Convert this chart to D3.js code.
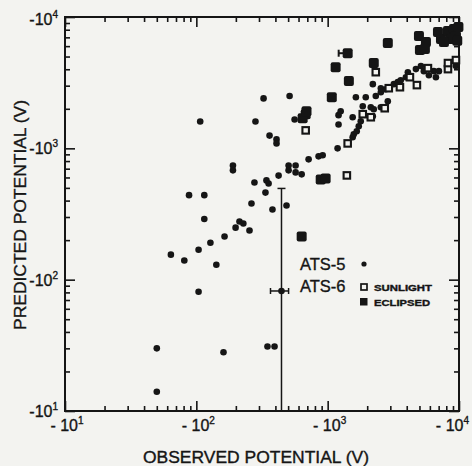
<!DOCTYPE html>
<html>
<head>
<meta charset="utf-8">
<script src="https://cdn.jsdelivr.net/npm/d3@7"></script>
<style>
  html, body { margin: 0; padding: 0; background: #f3f3f0; }
  svg { display: block; }
  text { font-family: "Liberation Sans", Arial, sans-serif; fill: #151515; stroke: #151515; stroke-width: 0.35; }
</style>
</head>
<body>
<svg id="chart" width="472" height="466"></svg>
<script>
// ---- Data (potentials in volts, negative) : [observed, predicted] ----
const ats5 = [
  [-107,-1600],[-190,-740],[-190,-680],[-88,-440],[-115,-440],[-115,-290],[-213,-277],
  [-199,-249],[-228,-268],[-254,-237],[-164,-213],[-128,-191],[-104,-169],[-64,-155],
  [-81,-140],[-142,-130],[-104,-81],[-50,-30],[-161,-28],[-50,-14],[-348,-31],[-394,-31],
  [-325,-2400],[-513,-2500],[-282,-1600],[-560,-1660],[-361,-1250],[-408,-1170],[-408,-1090],
  [-277,-550],[-342,-570],[-355,-540],[-336,-460],[-263,-380],[-380,-342],[-486,-367],
  [-423,-620],[-504,-740],[-570,-740],[-504,-680],[-570,-656],[-634,-634],[-716,-824],
  [-853,-869],[-916,-885],
  [-1190,-1000],[-1210,-1520],[-1210,-1790],[-1256,-1916],[-1550,-1725],[-1550,-1213],
  [-1580,-1280],[-1665,-1350],[-1725,-1470],[-1786,-1607],[-1640,-2450],[-1950,-2450],
  [-2325,-2500],[-2540,-2675],[-2870,-2285],[-1850,-2090],[-2130,-2055],[-2244,-1986],
  [-2207,-1755],[-2540,-2055],[-2207,-3080],[-2540,-2870],[-2773,-2820],[-3190,-3080],
  [-3420,-3190],[-3600,-3300],[-3940,-3480],[-4080,-3800],[-4700,-4010],[-5130,-4230],
  [-5400,-3870],[-5900,-3600],[-6440,-3870],[-6670,-3480],[-7030,-3870],[-9480,-4230]
];
const ats6Sunlight = [
  [-680,-1370],[-1400,-622],[-1420,-1090],[-1850,-1820],[-2130,-1725],[-2325,-3800],
  [-2720,-2020],[-2920,-2870],[-3550,-2920],[-4230,-3480],[-4780,-3030],[-5800,-4080],
  [-8240,-4010],[-8240,-4460],[-9480,-4700]
];
const ats6Eclipsed = [
  [-1420,-5300],[-1150,-4150],[-1450,-3250],[-1075,-2450],[-2870,-6340],[-2244,-4460],
  [-4955,-7160],[-5600,-6440],[-5040,-5600],[-5500,-5700],[-6915,-7680],[-7290,-6790],
  [-8240,-7820],[-9160,-8100],[-9480,-7160],[-8690,-6790],[-7680,-6440],[-9900,-8400],
  [-9700,-6600],[-680,-1820],[-645,-1695],[-690,-1916],[-885,-580],[-965,-590],[-634,-213]
];
// representative error bar point: [observed, predicted], with ranges
const errPoint = [-445, -82];
const errObsRange = [-367, -504];
const errPredRange = [-10, -495];
// small whisker on one eclipsed point
const eclWhisker = { obs: [-1213, -1420], pred: -5300 };

const majorTicks = [-10, -100, -1000, -10000];
const tickExponents = ["1", "2", "3", "4"];
const minorTicks = [1, 2, 3].flatMap(k => [2,3,4,5,6,7,8,9].map(m => -m * Math.pow(10, k)));

const legendSeries = ["ATS-5", "ATS-6"];
const legendSub = ["SUNLIGHT", "ECLIPSED"];
const xTitle = "OBSERVED POTENTIAL (V)";
const yTitle = "PREDICTED POTENTIAL (V)";

// ---- Layout ----
const svg = d3.select("#chart");
const ink = "#151515";
const L = 65, R = 459, T = 17, B = 411;

const x = d3.scaleLog().domain([-10, -10000]).range([L, R]);
const y = d3.scaleLog().domain([-10, -10000]).range([B, T]);

svg.append("rect").attr("width", 472).attr("height", 466).attr("fill", "#f3f3f0");

// axes ticks (inward)
function styleAxis(g) {
  g.select(".domain").remove();
  g.selectAll("line").attr("stroke", ink).attr("stroke-width", 1.6);
  g.selectAll("text").remove();
}
const axes = [
  [d3.axisBottom(x), `translate(0,${B})`],
  [d3.axisTop(x), `translate(0,${T})`],
  [d3.axisLeft(y), `translate(${L},0)`],
  [d3.axisRight(y), `translate(${R},0)`]
];
axes.forEach(([ax, tr]) => {
  svg.append("g").attr("transform", tr)
    .call(ax.tickValues(minorTicks).tickSizeInner(-5).tickSizeOuter(0).tickFormat(""))
    .call(styleAxis);
  svg.append("g").attr("transform", tr)
    .call(ax.tickValues(majorTicks).tickSizeInner(-10).tickSizeOuter(0).tickFormat(""))
    .call(styleAxis);
});

// frame
svg.append("rect").attr("x", L).attr("y", T).attr("width", R - L).attr("height", B - T)
  .attr("fill", "none").attr("stroke", ink).attr("stroke-width", 2);

// tick labels
majorTicks.forEach((v, i) => {
  const yy = i === 3 ? y(v) + 8 : y(v) + 6;
  const ty = svg.append("text").attr("x", 58).attr("y", yy).attr("text-anchor", "end")
    .attr("font-size", 16);
  ty.append("tspan").text("-10");
  ty.append("tspan").attr("font-size", 10).attr("dy", -7).text(tickExponents[i]);
  const anchor = i === 3 ? "end" : "middle";
  const xx = i === 3 ? 469 : x(v) + 2;
  const tx = svg.append("text").attr("x", xx).attr("y", 431).attr("text-anchor", anchor)
    .attr("font-size", 16);
  tx.append("tspan").text("- 10");
  tx.append("tspan").attr("font-size", 10).attr("dy", -7).text(tickExponents[i]);
});

// axis titles
svg.append("text").attr("x", 256).attr("y", 463).attr("text-anchor", "middle")
  .attr("font-size", 16).attr("textLength", 226).attr("lengthAdjust", "spacingAndGlyphs")
  .text(xTitle);
svg.append("text").attr("transform", "translate(26,215) rotate(-90)").attr("text-anchor", "middle")
  .attr("font-size", 16).attr("textLength", 230).attr("lengthAdjust", "spacingAndGlyphs")
  .text(yTitle);

// error bars
const eb = svg.append("g").attr("stroke", ink).attr("stroke-width", 1.5);
eb.append("line").attr("x1", x(errPoint[0])).attr("x2", x(errPoint[0]))
  .attr("y1", y(errPredRange[0])).attr("y2", y(errPredRange[1]));
eb.append("line").attr("x1", x(errPoint[0]) - 4).attr("x2", x(errPoint[0]) + 4)
  .attr("y1", y(errPredRange[1])).attr("y2", y(errPredRange[1]));
eb.append("line").attr("x1", x(errObsRange[0])).attr("x2", x(errObsRange[1]))
  .attr("y1", y(errPoint[1])).attr("y2", y(errPoint[1]));
errObsRange.forEach(v => eb.append("line").attr("x1", x(v)).attr("x2", x(v))
  .attr("y1", y(errPoint[1]) - 3).attr("y2", y(errPoint[1]) + 3));
eb.append("line").attr("x1", x(eclWhisker.obs[0])).attr("x2", x(eclWhisker.obs[1]))
  .attr("y1", y(eclWhisker.pred)).attr("y2", y(eclWhisker.pred)).attr("stroke-width", 2);
eb.append("line").attr("x1", x(eclWhisker.obs[0])).attr("x2", x(eclWhisker.obs[0]))
  .attr("y1", y(eclWhisker.pred) - 3.5).attr("y2", y(eclWhisker.pred) + 3.5).attr("stroke-width", 2);
svg.append("circle").attr("cx", x(errPoint[0])).attr("cy", y(errPoint[1])).attr("r", 3.3).attr("fill", ink);

// markers
svg.append("g").selectAll("circle").data(ats5).join("circle")
  .attr("cx", d => x(d[0])).attr("cy", d => y(d[1])).attr("r", 3.3).attr("fill", ink);
svg.append("g").selectAll("rect").data(ats6Sunlight).join("rect")
  .attr("x", d => x(d[0]) - 3.25).attr("y", d => y(d[1]) - 3.25).attr("width", 6.5).attr("height", 6.5)
  .attr("fill", "#f3f3f0").attr("stroke", ink).attr("stroke-width", 2.1);
svg.append("g").selectAll("rect").data(ats6Eclipsed).join("rect")
  .attr("x", d => x(d[0]) - 5).attr("y", d => y(d[1]) - 5).attr("width", 10).attr("height", 10)
  .attr("rx", 2).attr("fill", ink);

// legend
const lg = svg.append("g");
lg.append("text").attr("x", 300).attr("y", 270).attr("font-size", 16.5).text(legendSeries[0]);
lg.append("text").attr("x", 300).attr("y", 292).attr("font-size", 16.5).text(legendSeries[1]);
lg.append("circle").attr("cx", 364).attr("cy", 264).attr("r", 2.6).attr("fill", ink);
lg.append("rect").attr("x", 361).attr("y", 284).attr("width", 6).attr("height", 6)
  .attr("fill", "none").attr("stroke", ink).attr("stroke-width", 1.7);
lg.append("rect").attr("x", 360).attr("y", 298).attr("width", 7.5).attr("height", 7.5).attr("fill", ink);
lg.append("text").attr("x", 374).attr("y", 291).attr("font-size", 8.5).attr("font-weight", "bold")
  .attr("textLength", 58).attr("lengthAdjust", "spacingAndGlyphs").text(legendSub[0]);
lg.append("text").attr("x", 374).attr("y", 306).attr("font-size", 8.5).attr("font-weight", "bold")
  .attr("textLength", 56).attr("lengthAdjust", "spacingAndGlyphs").text(legendSub[1]);
</script>
</body>
</html>
